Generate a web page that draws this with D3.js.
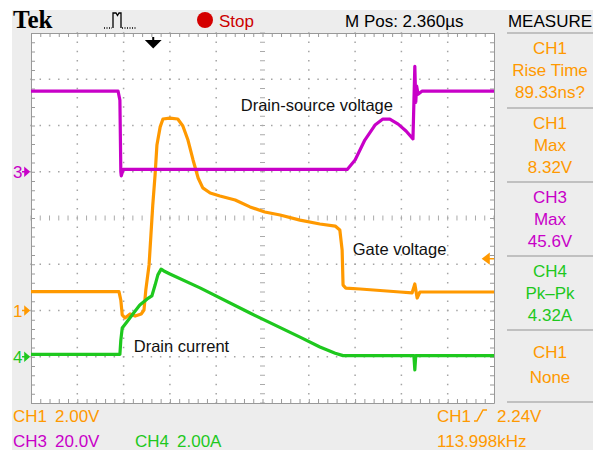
<!DOCTYPE html>
<html>
<head>
<meta charset="utf-8">
<script src="https://cdn.jsdelivr.net/npm/d3@7"></script>
<style>
  body { margin: 0; background: #fff; }
  text { font-family: "Liberation Sans", Arial, sans-serif; }
</style>
</head>
<body>
<svg width="593" height="450"></svg>
<script>
// time is in screen divisions (10 across), values in each channel's units
const ch1Time = [0, 1.90, 1.94, 1.97, 2.03, 2.14, 2.25, 2.38, 2.44, 2.48, 2.55, 2.59, 2.63, 2.68, 2.72, 2.79, 2.85, 3.00, 3.17, 3.28, 3.39, 3.50, 3.61, 3.71, 3.87, 4.08, 4.41, 4.73, 5.05, 5.38, 5.81, 6.24, 6.57, 6.67, 6.72, 6.74, 6.80, 7.11, 7.97, 8.23, 8.29, 8.34, 8.40, 10];
const ch1Volts = [0.82, 0.82, 0.45, -0.19, -0.32, -0.15, -0.24, -0.15, 0.02, 0.89, 1.97, 3.26, 4.56, 5.86, 7.16, 7.94, 8.28, 8.32, 8.28, 7.98, 7.37, 6.51, 5.73, 5.30, 5.08, 4.95, 4.78, 4.48, 4.26, 4.13, 3.91, 3.74, 3.65, 3.48, 2.61, 1.10, 0.97, 0.93, 0.80, 0.76, 1.15, 0.54, 0.80, 0.80];

const ch3Time = [0, 1.88, 1.92, 1.94, 1.95, 1.99, 6.83, 7.00, 7.21, 7.43, 7.60, 7.75, 7.93, 8.10, 8.25, 8.27, 8.29, 8.31, 8.33, 8.36, 8.45, 10];
const ch3Volts = [34.9, 34.9, 31.0, 0, -1.8, 1.0, 1.0, 5.1, 13.7, 20.2, 22.8, 22.8, 20.6, 17.6, 14.2, 30, 45.6, 30, 37, 33.5, 34.9, 34.9];

const ch4Time = [0, 1.92, 1.94, 1.97, 2.07, 2.20, 2.35, 2.51, 2.61, 2.68, 2.74, 2.81, 2.87, 3.00, 3.65, 4.73, 5.81, 6.24, 6.57, 6.74, 8.27, 8.29, 8.31, 10];
const ch4Amps = [0.1, 0.1, 0.72, 1.24, 1.50, 1.85, 2.24, 2.50, 2.63, 3.10, 3.54, 3.79, 3.71, 3.58, 2.98, 1.89, 0.85, 0.42, 0.15, 0.05, 0.05, -0.57, 0.05, 0.05];

// channel settings: units per division and ground position (divisions from bottom)
const channels = [
  { name: 'CH1', perDiv: 2, ground: 2, color: '#ff9900', marker: '1', time: ch1Time, values: ch1Volts },
  { name: 'CH3', perDiv: 20, ground: 5, color: '#c800c8', marker: '3', time: ch3Time, values: ch3Volts },
  { name: 'CH4', perDiv: 2, ground: 1, color: '#1ec81e', marker: '4', time: ch4Time, values: ch4Amps }
];

const triggerDiv = 2.64;
const triggerLevel = 2.24;

const measureLabels = [
  { lines: ['CH1', 'Rise Time', '89.33ns?'], color: '#ff9900' },
  { lines: ['CH1', 'Max', '8.32V'], color: '#ff9900' },
  { lines: ['CH3', 'Max', '45.6V'], color: '#c800c8' },
  { lines: ['CH4', 'Pk\u2013Pk', '4.32A'], color: '#1ec81e' },
  { lines: ['CH1', 'None'], color: '#ff9900' }
];

const traceLabels = [
  { text: 'Drain-source voltage', t: 4.53, div: 6.32 },
  { text: 'Gate voltage', t: 6.95, div: 3.21 },
  { text: 'Drain current', t: 2.22, div: 1.1 }
];

const GRID = { left: 31, right: 494, top: 33, bottom: 403 };

const svg = d3.select('svg');

// screen background
svg.append('rect').attr('x', 12).attr('y', 10).attr('width', 581).attr('height', 440).attr('fill', '#ededed');
svg.append('rect')
  .attr('x', GRID.left).attr('y', GRID.top)
  .attr('width', GRID.right - GRID.left).attr('height', GRID.bottom - GRID.top)
  .attr('fill', '#fff');

const x = d3.scaleLinear().domain([0, 10]).range([GRID.left, GRID.right]);
const gy = d3.scaleLinear().domain([0, 8]).range([GRID.bottom, GRID.top]);

// graticule
const grat = svg.append('g');
const fine = d3.range(0, 10.001, 0.2);
const fineY = d3.range(0, 8.001, 0.2);
const dots = [];
d3.range(1, 10).filter(i => i !== 5).forEach(i => fineY.forEach(j => dots.push([i, j])));
d3.range(1, 8).filter(j => j !== 4).forEach(j => fine.forEach(i => dots.push([i, j])));
grat.selectAll('.dot').data(dots).enter().append('rect')
  .attr('x', d => x(d[0]) - 0.75).attr('y', d => gy(d[1]) - 0.75)
  .attr('width', 1.5).attr('height', 1.5).attr('fill', '#a4a4a4');

grat.selectAll('.ch').data(fine).enter().append('line')
  .attr('x1', d => x(d)).attr('x2', d => x(d))
  .attr('y1', gy(4) - 2.5).attr('y2', gy(4) + 2.5)
  .attr('stroke', '#aaa');
grat.selectAll('.cv').data(fineY).enter().append('line')
  .attr('y1', d => gy(d)).attr('y2', d => gy(d))
  .attr('x1', x(5) - 2.5).attr('x2', x(5) + 2.5)
  .attr('stroke', '#aaa');

grat.append('g').attr('transform', `translate(0,${GRID.top})`)
  .call(d3.axisBottom(x).tickValues(fine).tickSize(4).tickSizeOuter(0).tickFormat(''));
grat.append('g').attr('transform', `translate(0,${GRID.bottom})`)
  .call(d3.axisTop(x).tickValues(fine).tickSize(4).tickSizeOuter(0).tickFormat(''));
grat.append('g').attr('transform', `translate(${GRID.left},0)`)
  .call(d3.axisRight(gy).tickValues(fineY).tickSize(4).tickSizeOuter(0).tickFormat(''));
grat.append('g').attr('transform', `translate(${GRID.right},0)`)
  .call(d3.axisLeft(gy).tickValues(fineY).tickSize(4).tickSizeOuter(0).tickFormat(''));
grat.selectAll('path, line').attr('color', '#999');

// traces
svg.append('clipPath').attr('id', 'clip').append('rect')
  .attr('x', GRID.left).attr('y', GRID.top)
  .attr('width', GRID.right - GRID.left).attr('height', GRID.bottom - GRID.top);

channels.forEach(ch => {
  ch.y = d3.scaleLinear()
    .domain([-ch.ground * ch.perDiv, (8 - ch.ground) * ch.perDiv])
    .range([GRID.bottom, GRID.top]);
  const pts = ch.time.map((t, i) => [t, ch.values[i]]);
  svg.append('path')
    .datum(pts)
    .attr('clip-path', 'url(#clip)')
    .attr('fill', 'none')
    .attr('stroke', ch.color)
    .attr('stroke-width', 3.2)
    .attr('stroke-linejoin', 'round')
    .attr('d', d3.line().x(d => x(d[0])).y(d => ch.y(d[1])));

  // ground marker on the left
  const gyPos = ch.y(0);
  svg.append('text').attr('x', 13).attr('y', gyPos + 6)
    .attr('font-size', 17).attr('fill', ch.color).text(ch.marker);
  svg.append('path')
    .attr('d', `M22,${gyPos}H26M25,${gyPos - 3.5}L29,${gyPos}L25,${gyPos + 3.5}Z`)
    .attr('stroke', ch.color).attr('stroke-width', 1.6).attr('fill', ch.color);
});

// trace annotations
traceLabels.forEach(l => {
  svg.append('text').attr('x', x(l.t)).attr('y', gy(l.div))
    .attr('font-size', 16.5).attr('fill', '#111').text(l.text);
});

// trigger markers
const ty = channels[0].y(triggerLevel);
svg.append('path')
  .attr('d', `M${GRID.right},${ty}H${GRID.right - 6}M${GRID.right - 5},${ty - 4.5}L${GRID.right - 11},${ty}L${GRID.right - 5},${ty + 4.5}Z`)
  .attr('stroke', '#ff9900').attr('stroke-width', 1.6).attr('fill', '#ff9900');
const tx = x(triggerDiv);
svg.append('path')
  .attr('d', `M${tx},37V42M${tx - 6},41H${tx + 6}L${tx},47Z`)
  .attr('stroke', '#000').attr('stroke-width', 2).attr('fill', '#000');

// header
svg.append('text').attr('x', 13).attr('y', 28)
  .style('font-family', '"Liberation Serif", "DejaVu Serif", serif')
  .attr('font-weight', 'bold').attr('font-size', 25).attr('fill', '#000').text('Tek');
svg.append('path').attr('d', 'M113,28V13H116L117.5,15.5L119,13H121V28')
  .attr('fill', 'none').attr('stroke', '#000').attr('stroke-width', 1.3);
svg.append('path').attr('d', 'M104,28H112M122,28H137')
  .attr('stroke', '#000').attr('stroke-width', 1.3).attr('stroke-dasharray', '1,1.5');
svg.append('circle').attr('cx', 205).attr('cy', 20).attr('r', 8).attr('fill', '#d40000');
svg.append('text').attr('x', 219).attr('y', 27).attr('font-size', 17).attr('fill', '#cc0000').text('Stop');
svg.append('text').attr('x', 345).attr('y', 27).attr('font-size', 17).attr('fill', '#000').text('M Pos: 2.360\u00b5s');
svg.append('text').attr('x', 550).attr('y', 27).attr('font-size', 17).attr('fill', '#000')
  .attr('text-anchor', 'middle').text('MEASURE');

// measure panel
const seps = [33, 108, 182, 256, 330, 402];
svg.selectAll('.sep').data(seps).enter().append('line')
  .attr('x1', 507).attr('x2', 593).attr('y1', d => d).attr('y2', d => d)
  .attr('stroke', '#b0b0b0').attr('stroke-width', 1.5);
const lineOffsets = [[21, 43, 65], [21, 43, 65], [21, 43, 65], [21, 43, 65], [28, 53]];
measureLabels.forEach((m, i) => {
  m.lines.forEach((s, k) => {
    svg.append('text').attr('x', 550).attr('y', seps[i] + lineOffsets[i][k])
      .attr('text-anchor', 'middle').attr('font-size', 17).attr('fill', m.color).text(s);
  });
});

// footer
const footer = [
  { x: 13, y: 422, text: 'CH1', color: '#ff9900' },
  { x: 55, y: 422, text: '2.00V', color: '#ff9900' },
  { x: 13, y: 447, text: 'CH3', color: '#c800c8' },
  { x: 55, y: 447, text: '20.0V', color: '#c800c8' },
  { x: 135, y: 447, text: 'CH4', color: '#1ec81e' },
  { x: 177, y: 447, text: '2.00A', color: '#1ec81e' },
  { x: 437, y: 422, text: 'CH1', color: '#ff9900' },
  { x: 497, y: 422, text: '2.24V', color: '#ff9900' },
  { x: 437, y: 447, text: '113.998kHz', color: '#ff9900' }
];
svg.selectAll('.foot').data(footer).enter().append('text')
  .attr('x', d => d.x).attr('y', d => d.y).attr('font-size', 17)
  .attr('fill', d => d.color).text(d => d.text);
svg.append('path').attr('d', 'M474,421H477L483,410H487')
  .attr('fill', 'none').attr('stroke', '#ff9900').attr('stroke-width', 1.5);
</script>
</body>
</html>
